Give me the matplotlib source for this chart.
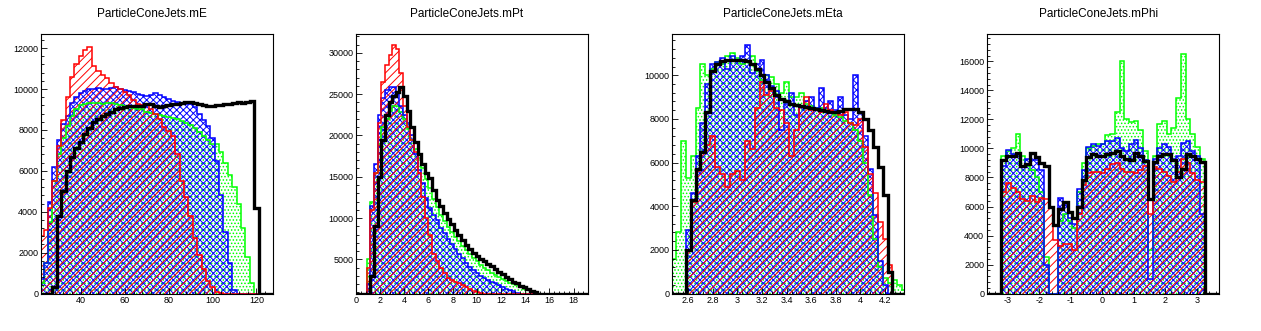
import numpy as np
import matplotlib.pyplot as plt
from matplotlib.ticker import MultipleLocator, AutoMinorLocator, FuncFormatter

plt.rcParams['font.family'] = ['Liberation Sans', 'DejaVu Sans']
plt.rcParams['hatch.linewidth'] = 0.7

# ---- ParticleConeJets.mE  (bins of 2, from 21 to 129)
e_edges = np.arange(21, 130, 2)
e_green = [500, 1500, 3500, 5500, 6800, 7600, 8200, 8700, 9000, 9200,
           9250, 9300, 9300, 9300, 9250, 9300, 9300, 9250, 9200, 9150,
           9100, 9050, 9000, 9000, 8900, 8850, 8800, 8750, 8700, 8650,
           8600, 8550, 8450, 8350, 8250, 8100, 7900, 7700, 7500, 7300,
           7300, 6900, 6400, 5800, 5200, 4400, 3200, 1800, 500, 0,
           0, 0, 0, 0]
e_blue = [700, 1500, 4500, 6200, 7500, 8300, 8700, 9300, 9600, 9800,
          9900, 10000, 10000, 10050, 10000, 10000, 10050, 10100, 10000, 9950,
          9900, 9850, 9750, 9700, 9650, 9700, 9800, 9700, 9600, 9500,
          9400, 9350, 9300, 9250, 9250, 9100, 8800, 8500, 8200, 7600,
          6500, 4800, 3000, 1500, 200, 0, 0, 0, 0, 0,
          0, 0, 0, 0]
e_red = [2800, 3100, 4200, 5500, 7200, 8500, 9600, 10600, 11200, 11600,
         11900, 12050, 11100, 10900, 10700, 10550, 10300, 10100, 10000, 9850,
         9700, 9450, 9250, 9200, 9250, 9000, 8800, 8550, 8150, 7950,
         7700, 6800, 5500, 4700, 3800, 2700, 1900, 1200, 600, 300,
         100, 50, 0, 0, 0, 0, 0, 0, 0, 0,
         0, 0, 0, 0]
e_black = [0, 0, 0, 300, 3800, 5000, 6000, 6700, 7100, 7400,
           7800, 8100, 8400, 8550, 8700, 8800, 8900, 9000, 9080, 9120,
           9150, 9150, 9160, 9180, 9250, 9250, 9150, 9100, 9180, 9220,
           9260, 9290, 9300, 9350, 9380, 9320, 9280, 9220, 9180, 9150,
           9220, 9230, 9280, 9260, 9330, 9380, 9330, 9350, 9420, 4200,
           0, 0, 0, 0]

# ---- ParticleConeJets.mPt  (bins of 0.3, from 0 to 19.2)
pt_edges = np.linspace(0, 19.2, 65)
pt_green = [0, 0, 0, 5000, 12000, 15500, 19000, 21000,
            22000, 23000, 23500, 23500, 22800, 22000, 20800, 19500,
            18400, 17300, 16000, 14700, 13600, 12300, 11300, 10400,
            9600, 8900, 8300, 7700, 7200, 6600, 6100, 5600,
            5150, 4750, 4350, 4000, 3700, 3400, 3100, 2850,
            2650, 2400, 2200, 2000, 1850, 1650, 1450, 1300,
            1100, 900, 0, 0, 0, 0, 0, 0,
            0, 0, 0, 0, 0, 0, 0, 0]
pt_blue = [0, 0, 0, 2000, 11500, 16500, 22500, 24500,
           25500, 25900, 25900, 25000, 23500, 22500, 21500, 20000,
           17800, 15800, 14300, 12400, 11200, 10400, 9800, 8800,
           8200, 7500, 6900, 6200, 5700, 5200, 4600, 4100,
           3700, 3300, 3000, 2700, 2450, 2300, 2100, 1850,
           1650, 1450, 1300, 1150, 950, 700, 0, 0,
           0, 0, 0, 0, 0, 0, 0, 0,
           0, 0, 0, 0, 0, 0, 0, 0]
pt_red = [0, 0, 0, 4000, 11000, 15500, 21500, 26500,
          28500, 29700, 31000, 30500, 27500, 23500, 21000, 19500,
          18000, 15500, 12500, 10000, 8000, 5700, 4800, 4000,
          3400, 2800, 2500, 2300, 2100, 1900, 1600, 1400,
          1200, 1000, 900, 0, 0, 0, 0, 0,
          0, 0, 0, 0, 0, 0, 0, 0,
          0, 0, 0, 0, 0, 0, 0, 0,
          0, 0, 0, 0, 0, 0, 0, 0]
pt_black = [0, 0, 0, 0, 3000, 9000, 15000, 19500,
            22500, 24000, 24800, 25300, 25800, 24800, 23000, 21000,
            19200, 17800, 16500, 15500, 14800, 13400, 12200, 11400,
            10600, 9900, 9300, 8600, 7900, 7300, 6700, 6300,
            5800, 5400, 5100, 4800, 4500, 4200, 3800, 3500,
            3200, 2900, 2600, 2300, 2100, 1800, 1600, 1400,
            1200, 1000, 0, 0, 0, 0, 0, 0,
            0, 0, 0, 0, 0, 0, 0, 0]

# ---- ParticleConeJets.mEta  (bins of 0.04, from 2.46 to 4.38)
eta_edges = np.linspace(2.46, 4.38, 49)
eta_green = [1600, 2800, 7000, 5300, 6300, 8500, 10500, 10000,
             10300, 10600, 10500, 10900, 11000, 10800, 10500, 10600,
             10900, 10200, 9800, 10000, 9900, 9600, 9200, 9700,
             9000, 9000, 9200, 8700, 8600, 8500, 8500, 8400,
             8300, 8200, 8100, 7900, 7800, 7500, 7000, 6000,
             4500, 2500, 1200, 700, 500, 600, 400, 150]
eta_blue = [0, 0, 0, 2900, 4600, 6300, 7800, 9600,
            10500, 10600, 10800, 10300, 10900, 10700, 10900, 11400,
            10100, 10500, 10700, 10000, 9500, 9300, 7500, 8700,
            9200, 8200, 8600, 8800, 9000, 8500, 9400, 8500,
            8800, 8400, 9000, 8200, 8000, 10000, 8300, 7200,
            5700, 3600, 1500, 400, 0, 0, 0, 0]
eta_red = [0, 0, 0, 2000, 4200, 5600, 6500, 6800,
           7200, 5800, 5500, 4900, 5500, 5600, 5200, 7000,
           6600, 8500, 9700, 9100, 9300, 8500, 8400, 7800,
           6300, 7500, 8600, 9000, 8400, 8400, 8300, 8700,
           8400, 8300, 8200, 8300, 7800, 7700, 8000, 6700,
           5500, 4600, 3300, 2500, 1300, 0, 0, 0]
eta_black = [0, 0, 0, 2000, 4300, 5700, 6500, 8300,
             10200, 10500, 10650, 10700, 10700, 10700, 10700, 10650,
             10500, 10300, 10000, 9700, 9400, 9100, 8900, 8800,
             8700, 8650, 8600, 8550, 8500, 8450, 8400, 8350,
             8300, 8300, 8350, 8450, 8450, 8450, 8300, 8000,
             7500, 6700, 5800, 4500, 1000, 0, 0, 0]

# ---- ParticleConeJets.mPhi  (bins of 0.15, from -3.8 to 3.7)
phi_edges = np.linspace(-3.8, 3.7, 51)
phi_green = [0, 0, 0, 0, 9500, 9800, 10000, 11000, 9500, 8800,
             8500, 8000, 7000, 2500, 0, 0, 5000, 5500, 5000, 4500,
             7000, 9000, 10000, 10200, 10300, 10300, 10900, 11000, 12500, 16000,
             12000, 11800, 11900, 11300, 9800, 3000, 9500, 11700, 11900, 11000,
             11400, 13500, 16500, 12000, 11000, 10100, 9300, 0, 0, 0]
phi_blue = [0, 0, 0, 0, 8800, 9900, 9600, 9500, 8800, 9300,
            9700, 9200, 8500, 2000, 0, 0, 6600, 6100, 5200, 4800,
            7200, 8500, 10100, 10300, 10200, 10300, 10500, 10500, 10700, 10000,
            9800, 10300, 10600, 10000, 9200, 1000, 9300, 10000, 10300, 10100,
            9300, 9500, 10400, 10500, 9800, 9500, 5500, 0, 0, 0]
phi_red = [0, 0, 0, 0, 7000, 7600, 7300, 7000, 6500, 6400,
           6700, 6300, 6600, 6500, 6000, 3700, 3300, 3400, 3400, 3000,
           5500, 7500, 8300, 8400, 8400, 8300, 8600, 8900, 9000, 8600,
           8400, 8400, 8300, 8500, 8800, 5500, 8700, 8600, 8400, 8100,
           7700, 8400, 9300, 9000, 8300, 7800, 7700, 0, 0, 0]
phi_black = [0, 0, 0, 0, 9200, 9500, 9500, 9700, 8800, 8900,
             9700, 9400, 9000, 8800, 6000, 4700, 5800, 6300, 5600, 5200,
             6000, 7800, 9400, 9600, 9500, 9500, 9600, 9700, 9850, 9500,
             9300, 9200, 9700, 9500, 9150, 6500, 9100, 9500, 9600, 9650,
             9200, 8000, 8600, 9600, 9500, 9300, 9100, 0, 0, 0]


def draw(ax, edges, green, blue, red, black, xlim, ylim, xmaj, ymaj, title, tx):
    ylo = ylim[0]
    for vals, col, hatch in [(green, '#00ff00', '.....'),
                             (blue, '#0000ff', 'xxxxx'),
                             (red, '#ff0000', '////')]:
        ax.stairs(vals, edges, fill=True, facecolor='none', edgecolor=col,
                  hatch=hatch, linewidth=0)
    for vals, col in [(green, '#00ff00'), (blue, '#0000ff'), (red, '#ff0000')]:
        ax.stairs(np.maximum(vals, ylo), edges, color=col, linewidth=1.1, baseline=ylo)
    ax.stairs(np.maximum(black, ylo), edges, color='black', linewidth=2.4, baseline=ylo)

    ax.set_xlim(*xlim)
    ax.set_ylim(*ylim)
    ax.xaxis.set_major_locator(MultipleLocator(xmaj))
    ax.yaxis.set_major_locator(MultipleLocator(ymaj))
    ax.xaxis.set_minor_locator(AutoMinorLocator(5))
    ax.yaxis.set_minor_locator(AutoMinorLocator(5))
    fmt = FuncFormatter(lambda v, p: '%g' % (round(v, 6) + 0.0))
    ax.xaxis.set_major_formatter(fmt)
    ax.yaxis.set_major_formatter(fmt)
    ax.tick_params(which='both', direction='in', top=False, right=False,
                   labelsize=6.5, pad=2, width=0.6)
    ax.tick_params(which='major', length=4)
    ax.tick_params(which='minor', length=2)
    for s in ax.spines.values():
        s.set_linewidth(0.8)
    ax.figure.text(tx, 0.958, title, ha='center', va='center', fontsize=8.5)


fig = plt.figure(figsize=(12.61, 3.31), dpi=100)
fig.patch.set_facecolor('white')
bottom, height, width = 0.113, 0.785, 0.184
lefts = [0.0325, 0.2823, 0.533, 0.7827]
axes = [fig.add_axes([l, bottom, width, height]) for l in lefts]

draw(axes[0], e_edges, e_green, e_blue, e_red, e_black,
     (21.8, 127.6), (0, 12700), 20, 2000, 'ParticleConeJets.mE', 0.1205)
draw(axes[1], pt_edges, pt_green, pt_blue, pt_red, pt_black,
     (0, 19.2), (860, 32300), 2, 5000, 'ParticleConeJets.mPt', 0.370)
draw(axes[2], eta_edges, eta_green, eta_blue, eta_red, eta_black,
     (2.47, 4.355), (0, 11900), 0.2, 2000, 'ParticleConeJets.mEta', 0.621)
draw(axes[3], phi_edges, phi_green, phi_blue, phi_red, phi_black,
     (-3.66, 3.71), (0, 17900), 1, 2000, 'ParticleConeJets.mPhi', 0.871)

fig.savefig('out.png', dpi=100)
